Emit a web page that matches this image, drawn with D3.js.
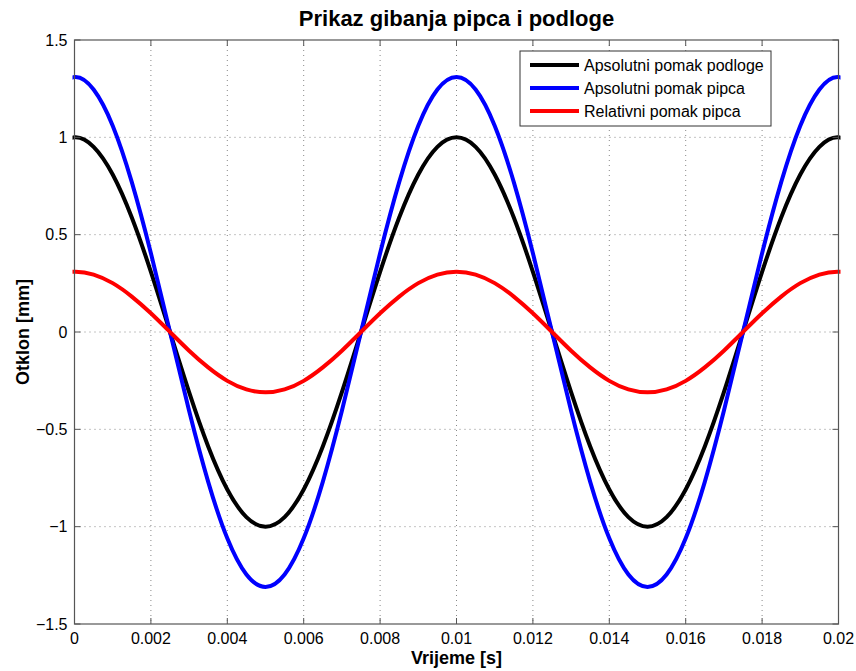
<!DOCTYPE html>
<html>
<head>
<meta charset="utf-8">
<script src="https://cdn.jsdelivr.net/npm/d3@7"></script>
<style>
  body { margin: 0; background: #fff; }
  svg text { font-family: "Liberation Sans", Arial, sans-serif; }
</style>
</head>
<body>
<svg id="chart" width="856" height="671"></svg>
<script>
const time = d3.range(-1, 42).map((i) => +(i * 0.0005).toFixed(4));
const podlogaHalf = [1, 0.951, 0.809, 0.588, 0.309, 0, -0.309, -0.588, -0.809, -0.951, -1];
const pipacHalf = [1.31, 1.246, 1.06, 0.77, 0.405, 0, -0.405, -0.77, -1.06, -1.246, -1.31];
const relHalf = [0.31, 0.295, 0.251, 0.182, 0.096, 0, -0.096, -0.182, -0.251, -0.295, -0.31];

// half period down, mirrored back up, twice over
function series(half) {
  const p = half.concat(half.slice(1, 10).reverse()); // 20 pts = one period
  const full = p.concat(p).concat([half[0]]);
  return [half[1]].concat(full).concat([half[1]]);
}
const podloga = series(podlogaHalf);
const pipac = series(pipacHalf);
const relativni = series(relHalf);

const xTicks = [0, 0.002, 0.004, 0.006, 0.008, 0.01, 0.012, 0.014, 0.016, 0.018, 0.02];
const yTicks = [-1.5, -1, -0.5, 0, 0.5, 1, 1.5];
const legendLabels = ["Apsolutni pomak podloge", "Apsolutni pomak pipca", "Relativni pomak pipca"];
const colors = ["#000000", "#0000ff", "#ff0000"];

const margin = { top: 40, left: 74.5, right: 17.5, bottom: 47 };
const width = 856 - margin.left - margin.right;
const height = 671 - margin.top - margin.bottom;

const svg = d3.select("#chart");
const g = svg.append("g").attr("transform", `translate(${margin.left},${margin.top})`);

svg.append("defs").append("clipPath").attr("id", "clip")
  .append("rect").attr("x", -2).attr("y", -2).attr("width", width + 4).attr("height", height + 4);

const x = d3.scaleLinear().domain([0, 0.02]).range([0, width]);
const y = d3.scaleLinear().domain([-1.5, 1.5]).range([height, 0]);

// Grid
g.selectAll(".gx").data(xTicks.slice(1, -1)).enter().append("line")
  .attr("x1", (d) => x(d)).attr("x2", (d) => x(d))
  .attr("y1", 0).attr("y2", height)
  .attr("stroke", "#888").attr("stroke-width", 1).attr("stroke-dasharray", "1,4");
g.selectAll(".gy").data(yTicks.slice(1, -1)).enter().append("line")
  .attr("y1", (d) => y(d)).attr("y2", (d) => y(d))
  .attr("x1", 0).attr("x2", width)
  .attr("stroke", "#888").attr("stroke-width", 1).attr("stroke-dasharray", "1,4");

// Lines
const lineGen = d3.line().x((d, i) => x(time[i])).y((d) => y(d)).curve(d3.curveNatural);
const lines = g.append("g").attr("clip-path", "url(#clip)");
[podloga, pipac, relativni].forEach((s, i) => {
  lines.append("path").datum(s)
    .attr("fill", "none")
    .attr("stroke", colors[i])
    .attr("stroke-width", 4)
    .attr("d", lineGen);
});

// Box
g.append("rect").attr("width", width).attr("height", height)
  .attr("fill", "none").attr("stroke", "#555").attr("stroke-width", 1.2);

// Axes (ticks inside, on both sides)
const fmt = (d) => (d < 0 ? "\u2212" + Math.abs(d) : String(d));
const tickLen = 6;
g.selectAll(".tx").data(xTicks).enter().append("g").each(function (d) {
  const s = d3.select(this);
  s.append("line").attr("x1", x(d)).attr("x2", x(d)).attr("y1", height).attr("y2", height - tickLen).attr("stroke", "#555");
  s.append("line").attr("x1", x(d)).attr("x2", x(d)).attr("y1", 0).attr("y2", tickLen).attr("stroke", "#555");
  s.append("text").attr("x", x(d)).attr("y", height + 20).attr("text-anchor", "middle")
    .attr("font-size", 16).attr("fill", "#000").text(fmt(d));
});
g.selectAll(".ty").data(yTicks).enter().append("g").each(function (d) {
  const s = d3.select(this);
  s.append("line").attr("y1", y(d)).attr("y2", y(d)).attr("x1", 0).attr("x2", tickLen).attr("stroke", "#555");
  s.append("line").attr("y1", y(d)).attr("y2", y(d)).attr("x1", width).attr("x2", width - tickLen).attr("stroke", "#555");
  s.append("text").attr("x", -7).attr("y", y(d)).attr("dy", "0.35em").attr("text-anchor", "end")
    .attr("font-size", 16).attr("fill", "#000").text(fmt(d));
});

// Labels
svg.append("text").attr("x", margin.left + width / 2).attr("y", 26).attr("text-anchor", "middle")
  .attr("font-size", 22).attr("font-weight", "bold").text("Prikaz gibanja pipca i podloge");
svg.append("text").attr("x", margin.left + width / 2).attr("y", 664).attr("text-anchor", "middle")
  .attr("font-size", 18).attr("font-weight", "bold").text("Vrijeme [s]");
svg.append("text").attr("transform", `translate(29,${margin.top + height / 2}) rotate(-90)`)
  .attr("text-anchor", "middle").attr("font-size", 18).attr("font-weight", "bold").text("Otklon [mm]");

// Legend
const lg = svg.append("g").attr("transform", "translate(520,51)");
lg.append("rect").attr("width", 251).attr("height", 75).attr("fill", "#fff").attr("stroke", "#333");
legendLabels.forEach((t, i) => {
  const yy = 14 + i * 23;
  lg.append("line").attr("x1", 10).attr("x2", 59).attr("y1", yy).attr("y2", yy)
    .attr("stroke", colors[i]).attr("stroke-width", 4);
  lg.append("text").attr("x", 64).attr("y", yy).attr("dy", "0.35em").attr("font-size", 16).text(t);
});
</script>
</body>
</html>
